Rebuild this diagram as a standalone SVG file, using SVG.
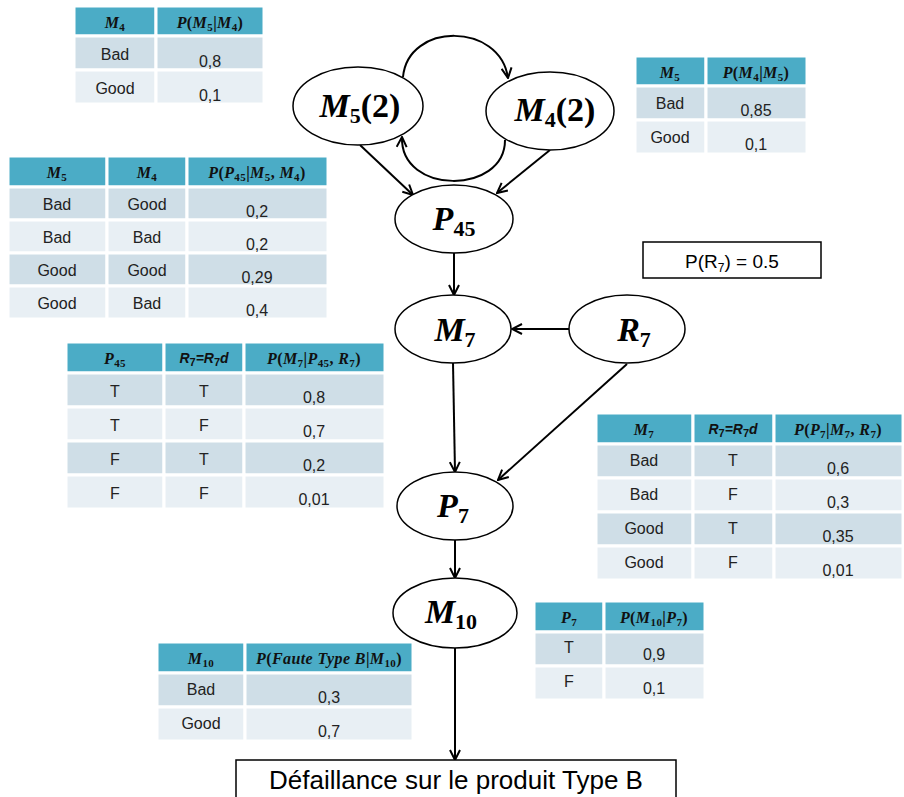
<svg xmlns="http://www.w3.org/2000/svg" width="904" height="797" viewBox="0 0 904 797">
<style>
.hd{fill:#4BACC6;stroke:#fff;stroke-width:3}
.r1{fill:#CFDEE7;stroke:#fff;stroke-width:3}
.r2{fill:#E8EFF4;stroke:#fff;stroke-width:3}
.ht{font-family:"Liberation Serif",serif;font-weight:bold;font-style:italic;font-size:16px;text-anchor:middle;fill:#111;letter-spacing:0.4px}
.hs{font-family:"Liberation Sans",sans-serif;font-weight:bold;font-style:italic;font-size:14px;text-anchor:middle;fill:#111}
.s{font-size:11px;font-style:normal}
.u{font-style:normal}
.ct{font-family:"Liberation Sans",sans-serif;font-size:16px;text-anchor:middle;fill:#222}
.nd{fill:#fff;stroke:#000;stroke-width:1.5}
.nt{font-family:"Liberation Serif",serif;font-weight:bold;font-style:italic;font-size:34px;text-anchor:middle;fill:#000}
.ns{font-size:22px;font-style:normal}
.nu{font-style:normal}
.ed{fill:none;stroke:#000;stroke-width:2;marker-end:url(#ah)}
.bx{fill:#fff;stroke:#000;stroke-width:1.5}
.bt{font-family:"Liberation Sans",sans-serif;text-anchor:middle;fill:#000}
</style>
<defs>
<marker id="ah" viewBox="0 0 12 12" refX="11" refY="6" markerWidth="12" markerHeight="12" markerUnits="userSpaceOnUse" orient="auto">
<path d="M1,1 L11,6 L1,11" fill="none" stroke="#000" stroke-width="2"/>
</marker>
</defs>
<rect width="904" height="797" fill="#fff"/>

<g id="table-m4">
<rect class="hd" x="74" y="6" width="82" height="30"/><rect class="hd" x="156" y="6" width="108" height="30"/>
<rect class="r1" x="74" y="36" width="82" height="34"/><rect class="r1" x="156" y="36" width="108" height="34"/>
<rect class="r2" x="74" y="70" width="82" height="34"/><rect class="r2" x="156" y="70" width="108" height="34"/>
<text class="ht" x="115" y="28">M<tspan class="s" dy="3">4</tspan></text>
<text class="ht" x="210" y="28"><tspan>P</tspan><tspan class="u">(</tspan>M<tspan class="s" dy="3">5</tspan><tspan class="u" dy="-3">|</tspan>M<tspan class="s" dy="3">4</tspan><tspan class="u" dy="-3">)</tspan></text>
<text class="ct" x="115" y="60">Bad</text><text class="ct" x="210" y="67">0,8</text>
<text class="ct" x="115" y="94">Good</text><text class="ct" x="210" y="101">0,1</text>
</g>

<g id="table-m5">
<rect class="hd" x="635" y="56" width="71" height="30"/><rect class="hd" x="706" y="56" width="101" height="30"/>
<rect class="r1" x="635" y="86" width="71" height="34"/><rect class="r1" x="706" y="86" width="101" height="34"/>
<rect class="r2" x="635" y="120" width="71" height="34"/><rect class="r2" x="706" y="120" width="101" height="34"/>
<text class="ht" x="670" y="78">M<tspan class="s" dy="3">5</tspan></text>
<text class="ht" x="756" y="78">P<tspan class="u">(</tspan>M<tspan class="s" dy="3">4</tspan><tspan class="u" dy="-3">|</tspan>M<tspan class="s" dy="3">5</tspan><tspan class="u" dy="-3">)</tspan></text>
<text class="ct" x="670" y="109">Bad</text><text class="ct" x="756" y="116">0,85</text>
<text class="ct" x="670" y="143">Good</text><text class="ct" x="756" y="150">0,1</text>
</g>

<g id="table-p45">
<rect class="hd" x="8" y="156" width="99" height="31"/><rect class="hd" x="107" y="156" width="80" height="31"/><rect class="hd" x="187" y="156" width="141" height="31"/>
<rect class="r1" x="8" y="187" width="99" height="33"/><rect class="r1" x="107" y="187" width="80" height="33"/><rect class="r1" x="187" y="187" width="141" height="33"/>
<rect class="r2" x="8" y="220" width="99" height="33"/><rect class="r2" x="107" y="220" width="80" height="33"/><rect class="r2" x="187" y="220" width="141" height="33"/>
<rect class="r1" x="8" y="253" width="99" height="33"/><rect class="r1" x="107" y="253" width="80" height="33"/><rect class="r1" x="187" y="253" width="141" height="33"/>
<rect class="r2" x="8" y="286" width="99" height="33"/><rect class="r2" x="107" y="286" width="80" height="33"/><rect class="r2" x="187" y="286" width="141" height="33"/>
<text class="ht" x="57" y="178">M<tspan class="s" dy="3">5</tspan></text>
<text class="ht" x="147" y="178">M<tspan class="s" dy="3">4</tspan></text>
<text class="ht" x="257" y="178">P<tspan class="u">(</tspan>P<tspan class="s" dy="3">45</tspan><tspan class="u" dy="-3">|</tspan>M<tspan class="s" dy="3">5</tspan><tspan class="u" dy="-3">, </tspan>M<tspan class="s" dy="3">4</tspan><tspan class="u" dy="-3">)</tspan></text>
<text class="ct" x="57" y="210">Bad</text><text class="ct" x="147" y="210">Good</text><text class="ct" x="257" y="217">0,2</text>
<text class="ct" x="57" y="243">Bad</text><text class="ct" x="147" y="243">Bad</text><text class="ct" x="257" y="250">0,2</text>
<text class="ct" x="57" y="276">Good</text><text class="ct" x="147" y="276">Good</text><text class="ct" x="257" y="283">0,29</text>
<text class="ct" x="57" y="309">Good</text><text class="ct" x="147" y="309">Bad</text><text class="ct" x="257" y="316">0,4</text>
</g>

<g id="table-m7">
<rect class="hd" x="66" y="342" width="98" height="31"/><rect class="hd" x="164" y="342" width="80" height="31"/><rect class="hd" x="244" y="342" width="141" height="31"/>
<rect class="r1" x="66" y="373" width="98" height="34"/><rect class="r1" x="164" y="373" width="80" height="34"/><rect class="r1" x="244" y="373" width="141" height="34"/>
<rect class="r2" x="66" y="407" width="98" height="34"/><rect class="r2" x="164" y="407" width="80" height="34"/><rect class="r2" x="244" y="407" width="141" height="34"/>
<rect class="r1" x="66" y="441" width="98" height="34"/><rect class="r1" x="164" y="441" width="80" height="34"/><rect class="r1" x="244" y="441" width="141" height="34"/>
<rect class="r2" x="66" y="475" width="98" height="34"/><rect class="r2" x="164" y="475" width="80" height="34"/><rect class="r2" x="244" y="475" width="141" height="34"/>
<text class="ht" x="115" y="364">P<tspan class="s" dy="3">45</tspan></text>
<text class="hs" x="204" y="363">R<tspan class="s" dy="3">7</tspan><tspan dy="-3">=R</tspan><tspan class="s" dy="3">7</tspan><tspan dy="-3">d</tspan></text>
<text class="ht" x="314" y="364">P<tspan class="u">(</tspan>M<tspan class="s" dy="3">7</tspan><tspan class="u" dy="-3">|</tspan>P<tspan class="s" dy="3">45</tspan><tspan class="u" dy="-3">, </tspan>R<tspan class="s" dy="3">7</tspan><tspan class="u" dy="-3">)</tspan></text>
<text class="ct" x="115" y="397">T</text><text class="ct" x="204" y="397">T</text><text class="ct" x="314" y="403">0,8</text>
<text class="ct" x="115" y="431">T</text><text class="ct" x="204" y="431">F</text><text class="ct" x="314" y="437">0,7</text>
<text class="ct" x="115" y="465">F</text><text class="ct" x="204" y="465">T</text><text class="ct" x="314" y="471">0,2</text>
<text class="ct" x="115" y="499">F</text><text class="ct" x="204" y="499">F</text><text class="ct" x="314" y="505">0,01</text>
</g>

<g id="table-p7">
<rect class="hd" x="596" y="413" width="97" height="31"/><rect class="hd" x="693" y="413" width="81" height="31"/><rect class="hd" x="774" y="413" width="129" height="31"/>
<rect class="r1" x="596" y="444" width="97" height="34"/><rect class="r1" x="693" y="444" width="81" height="34"/><rect class="r1" x="774" y="444" width="129" height="34"/>
<rect class="r2" x="596" y="478" width="97" height="34"/><rect class="r2" x="693" y="478" width="81" height="34"/><rect class="r2" x="774" y="478" width="129" height="34"/>
<rect class="r1" x="596" y="512" width="97" height="34"/><rect class="r1" x="693" y="512" width="81" height="34"/><rect class="r1" x="774" y="512" width="129" height="34"/>
<rect class="r2" x="596" y="546" width="97" height="34"/><rect class="r2" x="693" y="546" width="81" height="34"/><rect class="r2" x="774" y="546" width="129" height="34"/>
<text class="ht" x="644" y="435">M<tspan class="s" dy="3">7</tspan></text>
<text class="hs" x="733" y="434">R<tspan class="s" dy="3">7</tspan><tspan dy="-3">=R</tspan><tspan class="s" dy="3">7</tspan><tspan dy="-3">d</tspan></text>
<text class="ht" x="838" y="435">P<tspan class="u">(</tspan>P<tspan class="s" dy="3">7</tspan><tspan class="u" dy="-3">|</tspan>M<tspan class="s" dy="3">7</tspan><tspan class="u" dy="-3">, </tspan>R<tspan class="s" dy="3">7</tspan><tspan class="u" dy="-3">)</tspan></text>
<text class="ct" x="644" y="466">Bad</text><text class="ct" x="733" y="466">T</text><text class="ct" x="838" y="474">0,6</text>
<text class="ct" x="644" y="500">Bad</text><text class="ct" x="733" y="500">F</text><text class="ct" x="838" y="508">0,3</text>
<text class="ct" x="644" y="534">Good</text><text class="ct" x="733" y="534">T</text><text class="ct" x="838" y="542">0,35</text>
<text class="ct" x="644" y="568">Good</text><text class="ct" x="733" y="568">F</text><text class="ct" x="838" y="576">0,01</text>
</g>

<g id="table-m10">
<rect class="hd" x="157" y="642" width="88" height="31"/><rect class="hd" x="245" y="642" width="168" height="31"/>
<rect class="r1" x="157" y="673" width="88" height="34"/><rect class="r1" x="245" y="673" width="168" height="34"/>
<rect class="r2" x="157" y="707" width="88" height="34"/><rect class="r2" x="245" y="707" width="168" height="34"/>
<text class="ht" x="201" y="664">M<tspan class="s" dy="3">10</tspan></text>
<text class="ht" x="329" y="664">P<tspan class="u">(</tspan>Faute Type B<tspan class="u">|</tspan>M<tspan class="s" dy="3">10</tspan><tspan class="u" dy="-3">)</tspan></text>
<text class="ct" x="201" y="695">Bad</text><text class="ct" x="329" y="703">0,3</text>
<text class="ct" x="201" y="729">Good</text><text class="ct" x="329" y="737">0,7</text>
</g>

<g id="table-m10-p7">
<rect class="hd" x="534" y="601" width="70" height="31"/><rect class="hd" x="604" y="601" width="101" height="31"/>
<rect class="r1" x="534" y="632" width="70" height="34"/><rect class="r1" x="604" y="632" width="101" height="34"/>
<rect class="r2" x="534" y="666" width="70" height="34"/><rect class="r2" x="604" y="666" width="101" height="34"/>
<text class="ht" x="569" y="623">P<tspan class="s" dy="3">7</tspan></text>
<text class="ht" x="654" y="623">P<tspan class="u">(</tspan>M<tspan class="s" dy="3">10</tspan><tspan class="u" dy="-3">|</tspan>P<tspan class="s" dy="3">7</tspan><tspan class="u" dy="-3">)</tspan></text>
<text class="ct" x="569" y="653">T</text><text class="ct" x="654" y="660">0,9</text>
<text class="ct" x="569" y="687">F</text><text class="ct" x="654" y="694">0,1</text>
</g>

<g id="connectors">
<path class="ed" d="M403,77 C408,22 500,22 508,78"/>
<path class="ed" d="M505,140 C505,195 400,195 402,137"/>
<path class="ed" d="M360,145 L413,195"/>
<path class="ed" d="M550,150 L497,193"/>
<path class="ed" d="M454,253 L454,295"/>
<path class="ed" d="M569,329 L512,329"/>
<path class="ed" d="M453,363 L455,472"/>
<path class="ed" d="M627,364 L498,480"/>
<path class="ed" d="M455,540 L455,578"/>
<path class="ed" d="M455,648 L455,760"/>
</g>

<g id="node-m5">
<ellipse class="nd" cx="358" cy="106" rx="65" ry="39"/>
<text class="nt" x="360" y="117">M<tspan class="ns" dy="6">5</tspan><tspan class="nu" dy="-6">(2)</tspan></text>
</g>
<g id="node-m4">
<ellipse class="nd" cx="550" cy="111" rx="64" ry="39"/>
<text class="nt" x="555" y="121">M<tspan class="ns" dy="6">4</tspan><tspan class="nu" dy="-6">(2)</tspan></text>
</g>
<g id="node-p45">
<ellipse class="nd" cx="454" cy="219" rx="59" ry="34"/>
<text class="nt" x="454" y="230">P<tspan class="ns" dy="6">45</tspan></text>
</g>
<g id="node-m7">
<ellipse class="nd" cx="453" cy="329" rx="58" ry="34"/>
<text class="nt" x="455" y="341">M<tspan class="ns" dy="6">7</tspan></text>
</g>
<g id="node-r7">
<ellipse class="nd" cx="627" cy="329" rx="58" ry="34"/>
<text class="nt" x="634" y="341">R<tspan class="ns" dy="6">7</tspan></text>
</g>
<g id="node-p7">
<ellipse class="nd" cx="455" cy="506" rx="58" ry="34"/>
<text class="nt" x="453" y="517">P<tspan class="ns" dy="6">7</tspan></text>
</g>
<g id="node-m10">
<ellipse class="nd" cx="455" cy="613" rx="62" ry="35"/>
<text class="nt" x="451" y="623">M<tspan class="ns" dy="6">10</tspan></text>
</g>

<g id="prior-r7">
<rect class="bx" x="643" y="242" width="178" height="36"/>
<text class="bt" x="732" y="268" font-size="19">P(R<tspan font-size="12" dy="4">7</tspan><tspan dy="-4">) = 0.5</tspan></text>
</g>

<g id="result">
<rect class="bx" x="236" y="760" width="440" height="45"/>
<text class="bt" x="456" y="789" font-size="26">Défaillance sur le produit Type B</text>
</g>
</svg>
